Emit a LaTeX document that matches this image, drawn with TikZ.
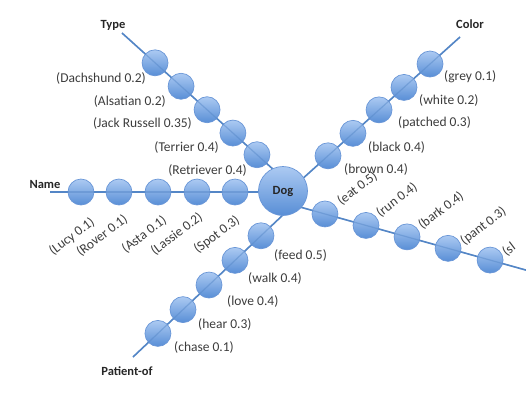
\documentclass[tikz,border=0pt]{standalone}
\usepackage{fontspec}
\setmainfont{Carlito}
\usetikzlibrary{calc}
\definecolor{ctop}{RGB}{172,202,242}
\definecolor{cbot}{RGB}{88,142,214}
\definecolor{cborder}{RGB}{105,150,215}
\definecolor{lcol}{RGB}{84,134,198}
\definecolor{txt}{RGB}{60,60,60}
\tikzset{
  circ/.style={circle, draw=cborder, line width=0.7pt, top color=ctop, bottom color=cbot, minimum size=26pt, inner sep=0pt},
  dogc/.style={circle, draw=cborder, line width=0.7pt, top color=ctop, bottom color=cbot, minimum size=49pt, inner sep=0pt, font=\bfseries\fontsize{12.5}{14}\selectfont, text=black!85},
  lab/.style={font=\fontsize{13.5}{15}\selectfont, text=txt, inner sep=1pt},
  ttl/.style={font=\bfseries\fontsize{12.5}{14}\selectfont, text=black!85, inner sep=1pt},
  link/.style={draw=lcol, line width=1.6pt},
  thru/.style={draw=lcol, line width=1.2pt, opacity=0.45}
}
\begin{document}
\begin{tikzpicture}[x=1pt,y=-1pt]
\useasboundingbox (0,0) rectangle (526,413);
\clip (0,0) rectangle (526,413);
% line end points
\coordinate (tO) at (122,33);  \coordinate (tI) at (275,171);
\coordinate (cO) at (460,37);  \coordinate (cI) at (300,181);
\coordinate (nO) at (50,192);  \coordinate (nI) at (283,192);
\coordinate (pO) at (133,357); \coordinate (pI) at (285,213);
\coordinate (aO) at (540,274); \coordinate (aI) at (300,207);
\draw[link] (tO) -- (tI);
\draw[link] (cO) -- (cI);
\draw[link] (nO) -- (nI);
\draw[link] (pO) -- (pI);
\draw[link] (aO) -- (aI);
% Type circles
\node[circ] (t1) at ($(tO)!0.216!(tI)$) {};
\node[circ] (t2) at ($(tO)!0.386!(tI)$) {};
\node[circ] (t3) at ($(tO)!0.556!(tI)$) {};
\node[circ] (t4) at ($(tO)!0.725!(tI)$) {};
\node[circ] (t5) at ($(tO)!0.882!(tI)$) {};
% Color circles
\node[circ] (c1) at ($(cO)!0.1875!(cI)$) {};
\node[circ] (c2) at ($(cO)!0.35!(cI)$) {};
\node[circ] (c3) at ($(cO)!0.506!(cI)$) {};
\node[circ] (c4) at ($(cO)!0.669!(cI)$) {};
\node[circ] (c5) at ($(cO)!0.825!(cI)$) {};
% Name circles
\node[circ] (n1) at ($(nO)!0.133!(nI)$) {};
\node[circ] (n2) at ($(nO)!0.296!(nI)$) {};
\node[circ] (n3) at ($(nO)!0.4635!(nI)$) {};
\node[circ] (n4) at ($(nO)!0.631!(nI)$) {};
\node[circ] (n5) at ($(nO)!0.794!(nI)$) {};
% Patient-of circles
\node[circ] (p1) at ($(pO)!0.164!(pI)$) {};
\node[circ] (p2) at ($(pO)!0.329!(pI)$) {};
\node[circ] (p3) at ($(pO)!0.5!(pI)$) {};
\node[circ] (p4) at ($(pO)!0.671!(pI)$) {};
\node[circ] (p5) at ($(pO)!0.842!(pI)$) {};
% Action circles
\node[circ] (a1) at ($(aI)!0.104!(aO)$) {};
\node[circ] (a2) at ($(aI)!0.275!(aO)$) {};
\node[circ] (a3) at ($(aI)!0.446!(aO)$) {};
\node[circ] (a4) at ($(aI)!0.617!(aO)$) {};
\node[circ] (a5) at ($(aI)!0.792!(aO)$) {};
% lines seen through the circles
\draw[thru] (tO) -- (tI);
\draw[thru] (cO) -- (cI);
\draw[thru] (nO) -- (nI);
\draw[thru] (pO) -- (pI);
\draw[thru] (aO) -- (aI);
% centre
\node[dogc] (dog) at (283,191) {Dog};
% titles
\node[ttl] (type) at (113,25) {Type};
\node[ttl] (color) at (470,24) {Color};
\node[ttl] (name) at (45,184) {Name};
\node[ttl] (pat) at (127,371) {Patient-of};
% Type labels
\node[lab, anchor=east] (lt1) at (147,78) {(Dachshund 0.2)};
\node[lab, anchor=east] (lt2) at (167,101) {(Alsatian 0.2)};
\node[lab, anchor=east] (lt3) at (193,123) {(Jack Russell 0.35)};
\node[lab, anchor=east] (lt4) at (220,147) {(Terrier 0.4)};
\node[lab, anchor=east] (lt5) at (248,170) {(Retriever 0.4)};
% Color labels
\node[lab, anchor=west] (lc1) at (443,77) {(grey 0.1)};
\node[lab, anchor=west] (lc2) at (418,100) {(white 0.2)};
\node[lab, anchor=west] (lc3) at (397,123) {(patched 0.3)};
\node[lab, anchor=west] (lc4) at (367,147) {(black 0.4)};
\node[lab, anchor=west] (lc5) at (343,169) {(brown 0.4)};
% Patient-of labels
\node[lab, anchor=west] (lp1) at (173,347) {(chase 0.1)};
\node[lab, anchor=west] (lp2) at (197,324) {(hear 0.3)};
\node[lab, anchor=west] (lp3) at (226,301) {(love 0.4)};
\node[lab, anchor=west] (lp4) at (247,278) {(walk 0.4)};
\node[lab, anchor=west] (lp5) at (273,255) {(feed 0.5)};
% Name labels
\node[lab, anchor=east, rotate=37] (ln1) at (94,220) {(Lucy 0.1)};
\node[lab, anchor=east, rotate=37] (ln2) at (127,217) {(Rover 0.1)};
\node[lab, anchor=east, rotate=37] (ln3) at (166,218) {(Asta 0.1)};
\node[lab, anchor=east, rotate=37] (ln4) at (202,215) {(Lassie 0.2)};
\node[lab, anchor=east, rotate=37] (ln5) at (239,218) {(Spot 0.3)};
% Action labels
\node[lab, anchor=west, rotate=37] (la1) at (338,203) {(eat 0.5)};
\node[lab, anchor=west, rotate=37] (la2) at (377,215) {(run 0.4)};
\node[lab, anchor=west, rotate=37] (la3) at (419,227) {(bark 0.4)};
\node[lab, anchor=west, rotate=37] (la4) at (461,243) {(pant 0.3)};
\node[lab, anchor=west, rotate=37] (la5) at (503,254) {(sl};
\end{tikzpicture}
\end{document}
